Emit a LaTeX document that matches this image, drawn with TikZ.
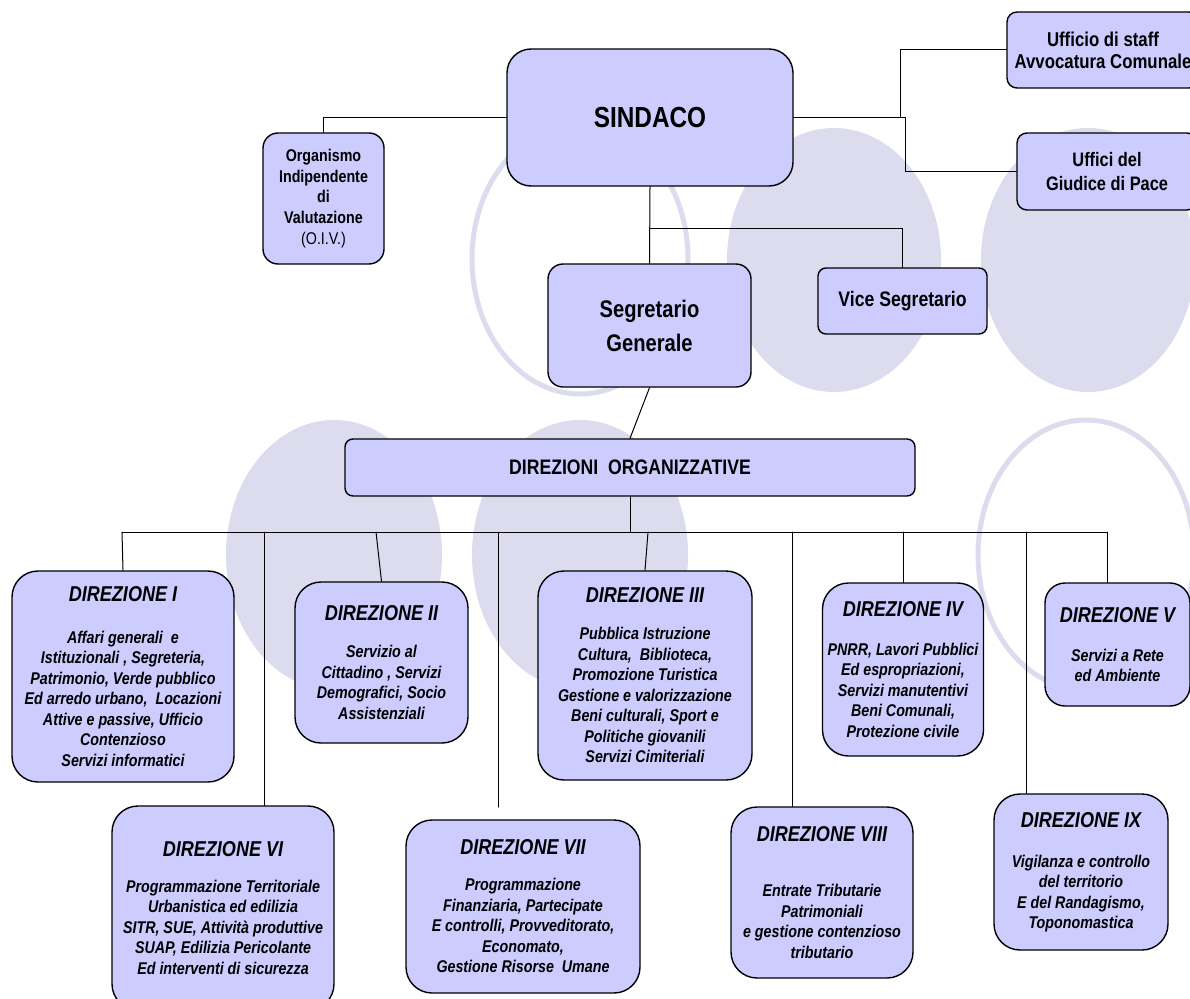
\documentclass[tikz,border=0pt]{standalone}
\usepackage{fontspec}
\setmainfont{Liberation Sans}[FakeStretch=0.84]
\usetikzlibrary{calc}

\definecolor{boxfill}{RGB}{204,204,255}
\definecolor{blobfill}{RGB}{220,220,238}

\newcommand{\dhead}[1]{{\fontsize{21.5}{24}\selectfont #1}}

\begin{document}
\begin{tikzpicture}[x=1pt,y=-1pt,line cap=round,
  box/.style={draw=black,line width=1.4pt,fill=boxfill,align=center,inner sep=2pt},
  dirbox/.style={box,rounded corners=26pt,font=\fontsize{17}{20.5}\selectfont\bfseries\itshape},
  link/.style={line width=1pt},
  blob/.style={fill=blobfill},
  ring/.style={draw=blobfill,line width=5pt}]
\fill[white] (0,0) rectangle (1190,998);
\useasboundingbox (0,0) rectangle (1190,998);
\clip (0,0) rectangle (1190,998);
% background ovals
\draw[ring] (580,259) ellipse [x radius=108pt, y radius=135pt];
\fill[blob] (834,260) ellipse [x radius=107pt, y radius=132pt];
\fill[blob] (1088,260) ellipse [x radius=107pt, y radius=132pt];
\fill[blob] (334,555) ellipse [x radius=108pt, y radius=135pt];
\fill[blob] (580,555) ellipse [x radius=108pt, y radius=135pt];
\draw[ring] (1086,555) ellipse [x radius=108pt, y radius=135pt];
% top level
\node[box,rounded corners=24pt,minimum width=286pt,minimum height=137pt,font=\fontsize{29}{34}\selectfont\bfseries] (sindaco) at (650,117.5) {SINDACO};
\node[box,rounded corners=15pt,minimum width=121pt,minimum height=131pt,font=\fontsize{17}{20.7}\selectfont\bfseries] (oiv) at (323.5,198.5) {Organismo\\Indipendente\\di\\Valutazione\\{\mdseries (O.I.V.)}};
\node[box,rounded corners=10pt,minimum width=192pt,minimum height=76pt,font=\fontsize{20}{22}\selectfont\bfseries] (staff) at (1103,50) {Ufficio di staff\\Avvocatura Comunale};
\node[box,rounded corners=10pt,minimum width=180pt,minimum height=77pt,font=\fontsize{19.5}{24}\selectfont\bfseries] (giudice) at (1107,171.5) {Uffici del\\Giudice di Pace};
\node[box,rounded corners=8pt,minimum width=169pt,minimum height=66pt,font=\fontsize{21}{24}\selectfont\bfseries] (vice) at (902.5,301) {Vice Segretario};
\node[box,rounded corners=15pt,minimum width=203pt,minimum height=123pt,font=\fontsize{24}{34}\selectfont\bfseries] (segr) at (649.5,325.5) {Segretario\\Generale};
\node[box,rounded corners=8pt,minimum width=570pt,minimum height=57pt,font=\fontsize{21}{24}\selectfont\bfseries] (direz) at (630,467.5) {DIREZIONI\ \ ORGANIZZATIVE};
% direzioni
\node[dirbox,minimum width=222pt,minimum height=211pt] (d1) at (123,676.5) {\dhead{DIREZIONE I}\\[21.5pt]Affari generali\ \ e\\Istituzionali , Segreteria,\\Patrimonio, Verde pubblico\\Ed arredo urbano,\ \ Locazioni\\Attive e passive, Ufficio\\Contenzioso\\Servizi informatici};
\node[dirbox,minimum width=173pt,minimum height=161pt] (d2) at (381.5,662.5) {\dhead{DIREZIONE II}\\[16.5pt]Servizio al\\Cittadino , Servizi\\Demografici, Socio\\Assistenziali};
\node[dirbox,minimum width=214pt,minimum height=209pt] (d3) at (645,675.5) {\dhead{DIREZIONE III}\\[16.5pt]Pubblica Istruzione\\Cultura,\ \ Biblioteca,\\Promozione Turistica\\Gestione e valorizzazione\\Beni culturali, Sport e\\Politiche giovanili\\Servizi Cimiteriali};
\node[dirbox,minimum width=161pt,minimum height=173pt] (d4) at (903,669.5) {\dhead{DIREZIONE IV}\\[18.5pt]PNRR, Lavori Pubblici\\Ed espropriazioni,\\Servizi manutentivi\\Beni Comunali,\\Protezione civile};
\node[dirbox,rounded corners=20pt,minimum width=145pt,minimum height=123pt] (d5) at (1117.5,644.5) {\dhead{DIREZIONE V}\\[18.5pt]Servizi a Rete\\ed Ambiente};
\node[dirbox,minimum width=222pt,minimum height=204pt] (d6) at (223,908) {\dhead{DIREZIONE VI}\\[15.5pt]Programmazione Territoriale\\Urbanistica ed edilizia\\SITR, SUE, Attività produttive\\SUAP, Edilizia Pericolante\\Ed interventi di sicurezza};
\node[dirbox,minimum width=234pt,minimum height=173pt] (d7) at (523,906.5) {\dhead{DIREZIONE VII}\\[15.5pt]Programmazione\\Finanziaria, Partecipate\\E controlli, Provveditorato,\\Economato,\\Gestione Risorse\ \ Umane};
\node[dirbox,minimum width=182pt,minimum height=171pt] (d8) at (822,892.5) {\dhead{DIREZIONE VIII}\\[34.5pt]Entrate Tributarie\\Patrimoniali\\e gestione contenzioso\\tributario};
\node[dirbox,minimum width=174pt,minimum height=156pt] (d9) at (1081,872) {\dhead{DIREZIONE IX}\\[19.5pt]Vigilanza e controllo\\del territorio\\E del Randagismo,\\Toponomastica};
% connectors
\coordinate (ks) at (900,117.5);
\coordinate (kg) at (905,117.5);
\coordinate (kv) at (650,228);
\coordinate (e7) at (498,807);
\def\taplist{122/1,264/6,376/2,498/7,648/3,792/8,903/4,1026/9,1107/5}
\foreach \xx/\nm in \taplist{
	\coordinate (t\nm) at (\xx,532);
}
\draw[link] (sindaco.west) -| (oiv.north);
\draw[link] (sindaco.east) -- (kg) |- (giudice.west);
\draw[link] (ks) |- (staff.west);
\draw[link] (sindaco.south) -- (segr.north);
\draw[link] (kv) -| (vice.north);
\draw[link] (segr.south) -- (direz.north);
\draw[link] (direz.south) -- (direz.south |- t1);
\draw[link] (t1) -- (t5);
\draw[link] (t1) -- (d1.north);
\draw[link] (t6) -- (t6 |- d6.north);
\draw[link] (t2) -- (d2.north);
\draw[link] (t7) -- (e7);
\draw[link] (t3) -- (d3.north);
\draw[link] (t8) -- (t8 |- d8.north);
\draw[link] (t4) -- (d4.north);
\draw[link] (t9) -- (t9 |- d9.north);
\draw[link] (t5) -- (t5 |- d5.north);
\end{tikzpicture}
\end{document}
